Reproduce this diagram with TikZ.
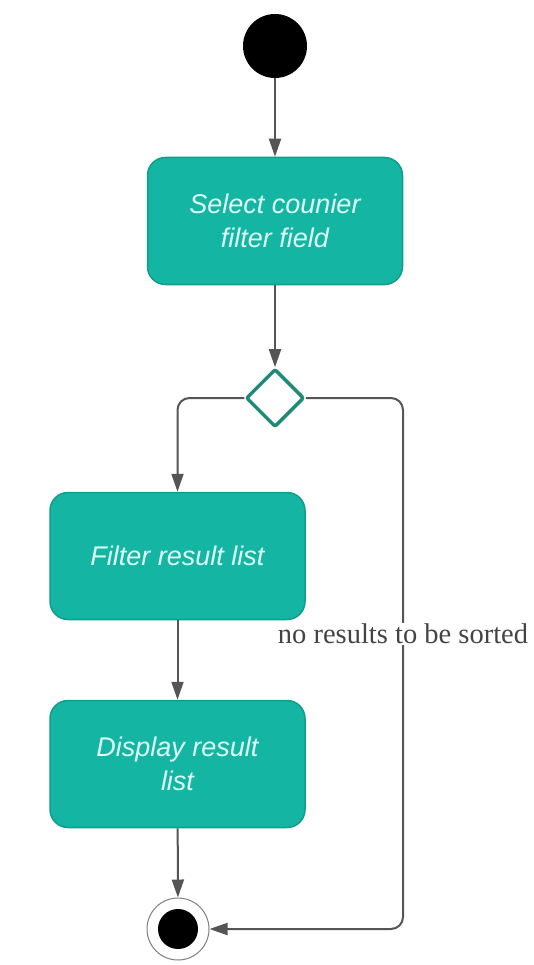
\documentclass[tikz,border=0pt]{standalone}
\usepackage{fontspec}
\setmainfont{Liberation Sans}
\newfontfamily\labelserif{Liberation Serif}
\usetikzlibrary{shapes.geometric,arrows.meta}
\definecolor{actfill}{HTML}{14B5A2}
\definecolor{actborder}{HTML}{0F9E8C}
\definecolor{acttext}{HTML}{DDFFF8}
\definecolor{decborder}{HTML}{1E8A78}
\definecolor{flowgray}{HTML}{555555}
\tikzset{
  act/.style={draw=actborder, line width=1.5pt, fill=actfill, rounded corners=18pt,
    minimum width=255pt, minimum height=127pt, align=center, text=acttext,
    font=\fontsize{27}{34}\selectfont\itshape},
  startdot/.style={circle, fill=black, minimum size=64pt, inner sep=0pt},
  finalring/.style={circle, draw=gray, line width=1pt, fill=white, minimum size=62pt, inner sep=0pt},
  finaldot/.style={circle, fill=black, minimum size=40pt, inner sep=0pt},
  decision/.style={diamond, aspect=1, draw=decborder, line width=3.5pt, fill=white,
    minimum size=58pt, inner sep=0pt, rounded corners=2pt},
  flow/.style={draw=flowgray, line width=2pt, rounded corners=12pt,
    -{Triangle[length=18pt,width=12pt]}},
  guard/.style={fill=white, text=flowgray!80!black, inner sep=1pt,
    font=\labelserif\fontsize{28.5}{30}\selectfont}
}
\begin{document}
\begin{tikzpicture}[x=1pt,y=-1pt]
  \useasboundingbox (0,0) rectangle (534,965);

  % nodes of the activity flow
  \node[startdot] (start) at (275,46) {};
  \node[act] (sel) at (275,221) {Select counier\\filter field};
  \node[decision] (dec) at (275,398) {};
  \node[act] (filt) at (177.5,556) {Filter result list};
  \node[act] (disp) at (177.5,764) {Display result\\list};
  \node[finalring] (finalring) at (178,929) {};
  \node[finaldot] (final) at (178,929) {};

  % corners of the bypass branch
  \coordinate (bypasstop) at (403,398);
  \coordinate (bypassbot) at (403,929);

  % connectors
  \draw[flow] (start) -- (sel);
  \draw[flow] (sel) -- (dec);
  \draw[flow] (dec.west) -| (filt.north);
  \draw[flow] (filt) -- (disp);
  \draw[flow] (disp) -- (finalring);
  \draw[flow] (dec.east) -- (bypasstop) -- (bypassbot) -- (finalring.east);
  \node[guard] (guardlbl) at (403,634) {no results to be sorted};
\end{tikzpicture}
\end{document}
